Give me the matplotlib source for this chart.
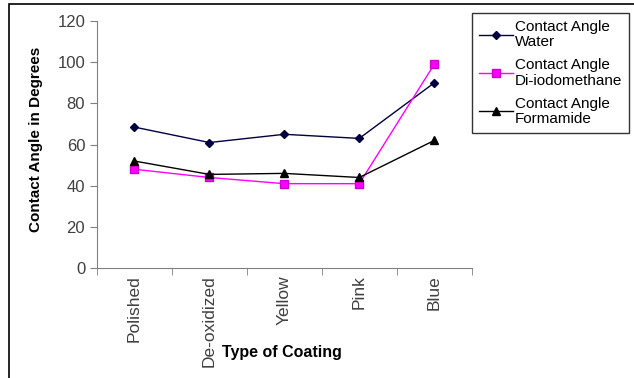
import matplotlib
matplotlib.use('Agg')
from matplotlib import pyplot as plt
from matplotlib.patches import Rectangle

plt.rcParams['font.family'] = ['Liberation Sans', 'DejaVu Sans']

coatings = ['Polished', 'De-oxidized', 'Yellow', 'Pink', 'Blue']
water = [68.5, 61, 65, 63, 90]
diiodomethane = [48, 44, 41, 41, 99]
formamide = [52, 45.5, 46, 44, 62]
yticks = [0, 20, 40, 60, 80, 100, 120]

fig = plt.figure(figsize=(6.34, 3.78), dpi=100)
ax = fig.add_axes([0.153, 0.291, 0.591, 0.653])

x = list(range(len(coatings)))
ax.plot(x, water, color='#000040', lw=1, marker='D', ms=4, label='Contact Angle\nWater')
ax.plot(x, diiodomethane, color='#ff00ff', lw=1, marker='s', ms=6,
        mfc='#ff00ff', mec='#cc00cc', label='Contact Angle\nDi-iodomethane')
ax.plot(x, formamide, color='black', lw=1, marker='^', ms=6, label='Contact Angle\nFormamide')

ax.set_xlim(-0.5, len(coatings) - 0.5)
ax.set_ylim(0, 120)
ax.set_yticks(yticks)
ax.set_xticks(x)
ax.set_xticklabels(coatings, rotation=90, fontsize=12.5, color='#404040')
ax.set_xticks([i - 0.5 for i in range(len(coatings) + 1)], minor=True)
ax.tick_params(axis='x', which='major', length=0, pad=5)
ax.tick_params(axis='x', which='minor', length=5, color='#808080', direction='out')
ax.tick_params(axis='y', length=5, color='#808080', labelsize=12, labelcolor='#404040')

for s in ['top', 'right']:
    ax.spines[s].set_visible(False)
for s in ['left', 'bottom']:
    ax.spines[s].set_color('#808080')

fig.text(0.056, 0.63, 'Contact Angle in Degrees', rotation=90, ha='center', va='center',
         fontsize=11, fontweight='bold')
fig.text(0.445, 0.068, 'Type of Coating', ha='center', va='center',
         fontsize=11.5, fontweight='bold')

leg = fig.legend(loc='upper left', bbox_to_anchor=(0.733, 0.985), fontsize=11,
                 frameon=True, fancybox=False, edgecolor='black', handlelength=2.2,
                 labelspacing=0.6, borderpad=0.45, handletextpad=0.15)
leg.get_frame().set_linewidth(1)
for t in leg.get_texts():
    t.set_linespacing(1.1)

# outer border
fig.patches.append(Rectangle((0.014, -0.1), 1.1, 1.089, transform=fig.transFigure,
                             fill=False, edgecolor='black', lw=1.2))

fig.savefig('out.png', dpi=100)
